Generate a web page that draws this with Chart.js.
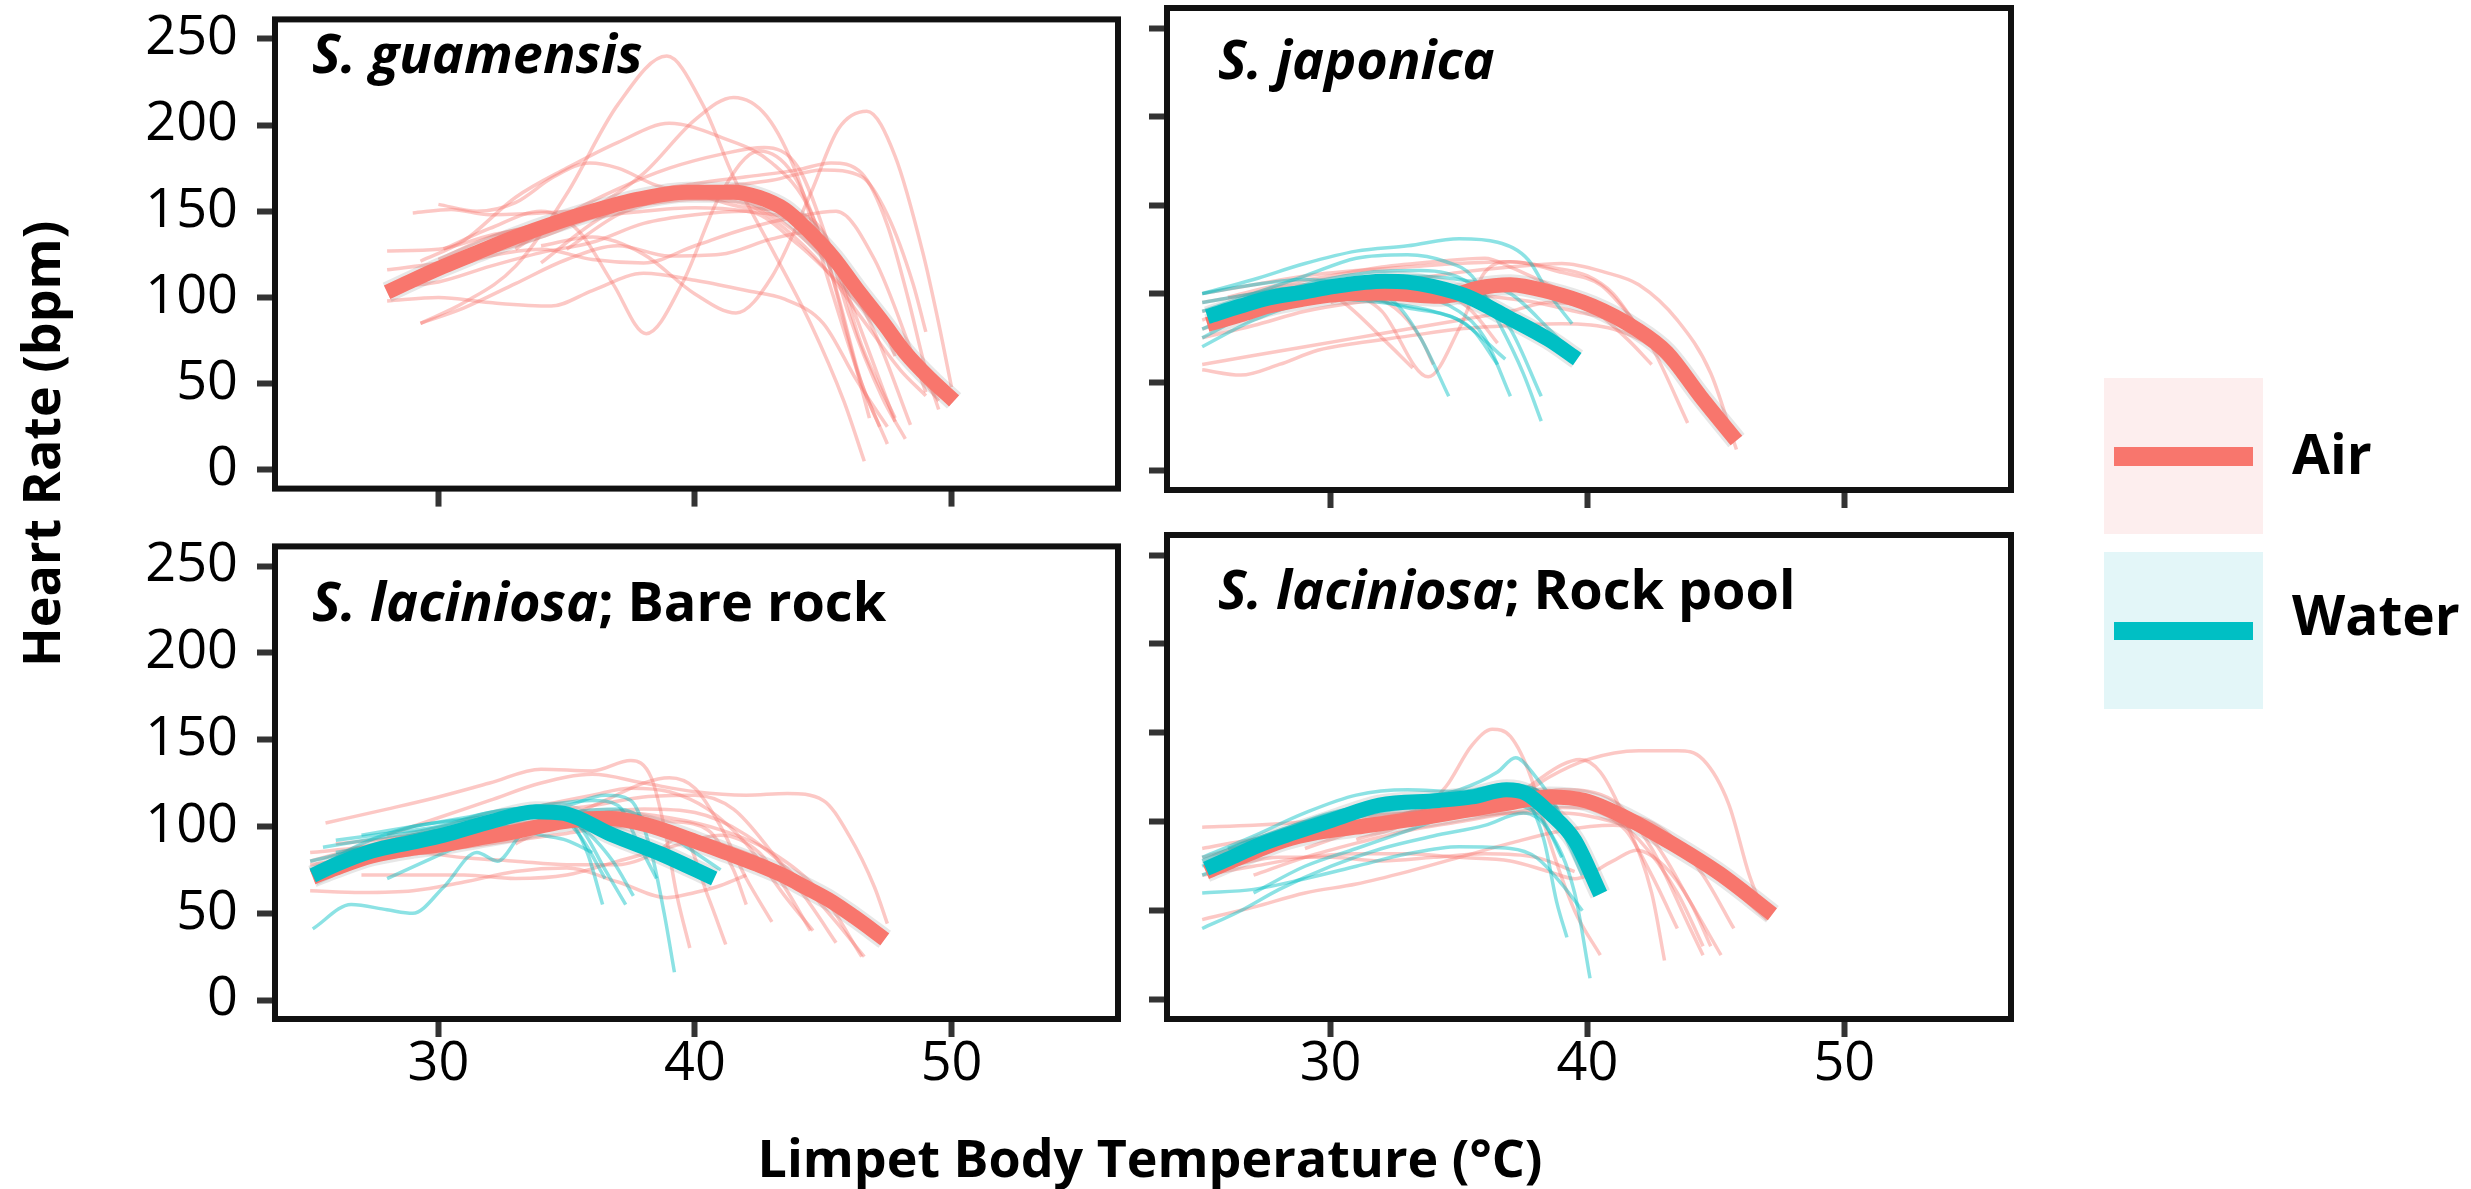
<!DOCTYPE html>
<html lang="en">
<head>
    <meta charset="UTF-8">
    <title>Limpet heart rate vs body temperature</title>
    <script src="https://cdn.jsdelivr.net/npm/chart.js@4.4.1/dist/chart.umd.min.js"></script>
    <style>
        body {
            margin: 0;
            background: #fff;
            font-family: "Open Sans", sans-serif;
        }
        #stage {
            position: relative;
            width: 2471px;
            height: 1189px;
            overflow: hidden;
        }
        canvas {
            position: absolute;
        }
        .txt {
            position: absolute;
            white-space: nowrap;
            line-height: 1;
            color: #000;
            font-weight: 700;
        }
        .ptitle { font-size: 54px; }
        .ptitle i { font-style: italic; }
        .axis-title { font-size: 52px; }
        .key {
            position: absolute;
        }
        .legend-label { font-size: 55px; }
    </style>
</head>
<body>
<div id="stage">
    <canvas id="p1"></canvas>
    <canvas id="p2"></canvas>
    <canvas id="p3"></canvas>
    <canvas id="p4"></canvas>

    <div class="txt ptitle" style="left:312px; top:25px;"><i>S. guamensis</i></div>
    <div class="txt ptitle" style="left:1218px; top:31px;"><i>S. japonica</i></div>
    <div class="txt ptitle" style="left:312px; top:573px;"><i>S. laciniosa</i>; Bare rock</div>
    <div class="txt ptitle" style="left:1218px; top:561px;"><i>S. laciniosa</i>; Rock pool</div>

    <div class="txt axis-title" style="left:1150px; top:1131px; transform:translateX(-50%);">Limpet Body Temperature (°C)</div>
    <div class="txt axis-title" style="left:14px; top:667px; transform-origin:0 0; transform:rotate(-90deg);">Heart Rate (bpm)</div>

    <div class="key" style="left:2104px; top:378px; width:159px; height:156px; background:#fdeeee;"></div>
    <div class="key" style="left:2114px; top:447px; width:139px; height:19px; background:#f8766d;"></div>
    <div class="key" style="left:2104px; top:552px; width:159px; height:157px; background:#e3f6f8;"></div>
    <div class="key" style="left:2114px; top:622px; width:139px; height:18px; background:#00bfc4;"></div>
    <div class="txt legend-label" style="left:2292px; top:425px;">Air</div>
    <div class="txt legend-label" style="left:2292px; top:586px;">Water</div>
</div>

<script>
// axes
const xTicks = [30, 40, 50];
const yTicks = [0, 50, 100, 150, 200, 250];
const xLimits = [23.63, 56.49];
const yLimits = [-10.9, 261.3];

// S. guamensis (air only)
const guamAirMean = [[28,103],[29,110],[30.2,118],[31.5,126],[33,135],[34.5,143],[36,150],[37.8,157],[39.7,161],[41.5,161],[42.5,158],[43.5,151],[44.4,139],[45.4,123],[46.3,105],[47.3,86],[48.2,68],[49.15,53],[50.1,40]];
const guamAirIndiv = [
    [[29.3,85],[31,97],[33,118],[35,160],[37,212],[38.9,240],[40.3,212],[41.5,170],[43,128],[44.5,85],[45.8,40],[46.6,5]],
    [[30,122],[32,135],[34,143],[36,152],[38,172],[40,203],[41.5,216],[42.8,205],[44,170],[45.2,110],[46.5,50],[47.5,15]],
    [[34,130],[36,135],[38,125],[40,102],[41.6,91],[43,112],[44.5,160],[45.6,198],[46.7,208],[47.8,182],[48.9,125],[49.5,85],[50,48]],
    [[30.2,128],[32,140],[34,150],[35.5,138],[36.8,108],[38.1,79],[39.5,108],[41,160],[42.5,185],[43.8,172],[45,130],[46,75],[46.8,30]],
    [[29.3,121],[31,133],[33,158],[35,175],[37,190],[39,201],[41,193],[43,178],[44.5,150],[45.5,105],[46.5,50],[47.2,25]],
    [[30,154],[31.5,150],[33,155],[34.5,170],[35.9,178],[37,175],[38.5,165],[40,160],[42,152],[43.5,150],[45,138],[46,100],[47,60],[47.8,28]],
    [[33,128],[35,148],[37,163],[39,175],[41,183],[42.7,187],[44,176],[45,140],[46,90],[47.3,42],[48.2,18]],
    [[34,120],[36,143],[38,160],[40,166],[42,170],[44,174],[45.3,178],[46.5,172],[47.5,142],[48.3,100],[49,58],[49.5,35]],
    [[35,128],[37,148],[39,158],[41,164],[43,168],[45,174],[46.5,170],[47.5,148],[48.5,108],[49,80]],
    [[28,98],[30,100],[32,97],[34.4,95],[36,104],[38,114],[40,110],[42,104],[43.5,99],[45,85],[46.3,52],[47.5,25]],
    [[29.3,85],[31,94],[33,108],[35,122],[37,130],[39,124],[41,125],[43,134],[44.5,138],[45.5,118],[46.5,72],[47.8,30]],
    [[28,116],[30,120],[32,126],[34,135],[36,146],[38,150],[40,152],[42,150],[44,143],[45.5,120],[47,80],[48.4,26]],
    [[29,149],[30.5,151],[32,148],[34,149],[36,151],[38,154],[40,157],[42,154],[43.5,140],[45,118],[46.5,88],[48,58],[49,43]],
    [[28,106],[30,109],[32,118],[34,126],[36,132],[38,143],[40,148],[42,150],[44,131],[45.5,110],[47,86],[48.5,60],[49.5,40]],
    [[30,115],[32,124],[34,128],[36,122],[38,120],[40,130],[42,140],[44,147],[45.5,150],[47,122],[48.4,70],[49,45]],
    [[28,127],[30,128],[32,136],[34,142],[36,150],[38,158],[40,160],[42,156],[44,137],[45.5,116],[47,95],[47.8,66]]
];

// S. japonica
const japAirMean = [[25.2,82.5],[26.5,88],[27.6,93],[29,97],[30.1,99.4],[32,100.4],[33.5,99],[34.3,98.5],[35,100],[35.7,103],[37,105],[38.5,101],[40.2,93],[41.9,80],[43.1,66.6],[44.4,42],[45.8,17]];
const japWaterMean = [[25.2,87],[26.5,93],[27.6,97.6],[29,101],[30.1,104],[32.1,107],[33,106.5],[34,104],[35.3,98.5],[36.85,87],[38.5,74],[39.6,63]];
const japAirIndiv = [
    [[25,100],[27,105],[29,110],[31,113],[33,115],[35,117],[37,118],[39,112],[40.5,105],[41.5,90],[42.5,70],[43.9,27]],
    [[25,57],[26.5,54],[28,60],[29.5,68],[31,72],[33,76],[35,80],[37,82],[39,83],[41,80],[42.5,70],[43.5,55]],
    [[25,60],[27,65],[29,70],[31,75],[33,80],[35,85],[37,90],[38.5,95],[40,92],[41.5,75],[42.5,60]],
    [[25,95],[27,100],[29,105],[30.5,95],[32,75],[33.2,58]],
    [[31,100],[32,90],[33.8,53],[35,80],[36,112],[37,118],[38.5,115],[40,110],[41,100],[42,80]],
    [[25,85],[27,95],[29,100],[31,105],[33,108],[35,112],[37,115],[39,117],[40.7,112],[42,105],[43.5,85],[44.8,55],[45.8,12]],
    [[25,90],[27,95],[29,100],[31,103],[33,105],[35,100],[36.5,98],[38,95],[39.5,90],[41,85],[42.5,75]],
    [[26,98],[28,105],[30,110],[32,115],[34,118],[36,120],[37,115],[38.5,105],[40,95],[41.5,80]],
    [[25,80],[27,90],[29,98],[31,100],[32.5,92],[33.5,75],[34,60]],
    [[30,95],[31.5,100],[33,102],[34.5,100],[35.5,90],[36.5,72]],
    [[25,75],[27,82],[29,90],[31,95],[33,98],[35,102],[37,104],[39,100],[41,88],[42.5,72],[44,50]]
];
const japWaterIndiv = [
    [[25,100],[27,108],[29,117],[31,124],[33,127],[35,131],[36.5,129],[37.7,119],[38.5,100],[39.4,83]],
    [[25,90],[27,100],[29,110],[31,120],[33,122],[34.5,118],[35.5,110],[36.5,85],[37.5,55],[38.2,28]],
    [[25,100],[27,105],[29,108],[31,104],[32.5,95],[33.5,75],[34.6,42]],
    [[25,75],[27,90],[29,100],[31,105],[33,100],[35,90],[36,75],[37,42]],
    [[25.5,85],[27.5,98],[29.5,107],[31.5,112],[33.5,113],[35.5,105],[37,80],[38.2,42]],
    [[25,70],[27,85],[29,95],[31,98],[33,92],[35,85],[36.8,63]],
    [[25,80],[27,92],[29,103],[31,108],[33,110],[35,108],[37,100],[38.5,80],[39.5,65]],
    [[25,95],[27,100],[28.5,103],[30,98],[32,95],[34,90],[35.5,80],[36.5,60]]
];

// S. laciniosa, bare rock
const bareAirMean = [[25.1,70.8],[26,76],[27.4,83],[29,87.5],[30.2,89.6],[31.5,93],[33,97],[34.9,102.8],[36.6,104.7],[38.1,101],[40,91.5],[41.2,85],[42.45,78],[43.4,72],[44.3,65],[45.3,57],[46.2,48],[47.4,35]];
const bareWaterMean = [[25.1,71.7],[26,78],[27.4,85.8],[29,91],[30.2,95],[32.1,103],[33.8,108.5],[34.9,107.5],[36.8,95],[38.7,84],[40.75,70]];
const bareAirIndiv = [
    [[25.6,102],[28,110],[30,117],[32,125],[34,133],[36,132],[37.5,138],[38.3,128],[38.8,100],[39.3,60],[39.8,30]],
    [[28,95],[30,105],[32,115],[34,125],[36,130],[38,125],[40,120],[42,118],[43.6,119],[45,115],[46,95],[47,65],[47.5,44]],
    [[26,80],[28,85],[30,92],[32,100],[34,108],[36,112],[38,117],[40,118],[41.5,110],[43,85],[44.5,55],[45.5,33]],
    [[25,63],[27,62],[29,63],[31,68],[33,74],[35,76],[37,68],[38.9,59],[40,62],[41,66],[42,72]],
    [[27,72],[29,72],[31,72],[33,70],[35,72],[37,80],[39,88],[41,95],[42.5,85],[43.5,65],[44.5,40]],
    [[25,78],[27,82],[29,85],[31,82],[33,80],[35,78],[37,78],[38.5,85],[39.5,95],[40.5,60],[41.2,32]],
    [[25,80],[27,88],[29,95],[31,100],[33,104],[35,107],[37,108],[39,105],[41,98],[43,85],[45,60],[46.5,25]],
    [[26,90],[28,93],[30,97],[32,100],[34,103],[36,107],[38,110],[40,108],[42,95],[44,70],[45.5,45],[46.6,25]],
    [[25,85],[27,88],[29,93],[31,96],[33,100],[35,104],[37,107],[39,103],[40.5,98],[41.5,75],[42,55]],
    [[30,95],[32,105],[34,112],[36,118],[37.5,122],[39,120],[40.5,110],[42,90],[43.5,60],[44.6,40]],
    [[33,90],[35,105],[36.5,115],[38,125],[39,128],[40,122],[41,100],[42,70],[43,45]],
    [[25,75],[27,80],[29,84],[31,88],[33,92],[35,96],[37,100],[39,98],[41,90],[43,78],[45,58],[47,38]]
];
const bareWaterIndiv = [
    [[25.1,41],[26.6,55],[28,52],[29,50],[30.2,65],[31.5,85],[32.3,80],[33.2,95],[34.5,105],[35.5,100],[36.5,75],[37.3,55]],
    [[25.2,75],[27,90],[29,100],[31,104],[33,108],[35,112],[36.5,118],[37.5,115],[38.3,85],[38.8,50],[39.2,16]],
    [[26,92],[28,96],[30,100],[32,108],[34,112],[36,115],[37,112],[37.8,90],[38.5,70]],
    [[25.5,88],[27.5,93],[29.5,98],[31.5,104],[33.5,108],[35,105],[35.8,85],[36.4,55]],
    [[27,95],[29,100],[31,105],[33,110],[34.5,108],[35.5,95],[36.5,70]],
    [[25,80],[27,87],[29,95],[31,100],[33,104],[35,108],[37,110],[38.5,100],[40,85],[41,75]],
    [[26,85],[28,90],[30,98],[32,103],[34,106],[35.5,100],[36.8,80],[37.6,60]],
    [[28,70],[29.5,80],[31,90],[32.5,100],[34,95],[35,92],[36,85]]
];

// S. laciniosa, rock pool
const poolAirMean = [[25.15,71.7],[26.5,80],[28.2,89.6],[29.5,94],[31,97],[33.8,102.8],[36.7,110],[38.55,114],[39.9,112],[41.4,103],[43.3,87.7],[45.15,70.8],[47.2,48]];
const poolWaterMean = [[25.15,73.6],[26,79],[27.2,86.8],[28.6,94],[30.06,101],[31.9,109.4],[34.2,112],[35.5,114],[36.85,118],[37.6,116],[38.55,104.7],[39.5,89.6],[40.5,59.4]];
const poolAirIndiv = [
    [[31,90],[33,100],[34.5,120],[35.5,143],[36.3,152],[37,148],[37.8,125],[38.5,90],[39.5,50],[40.5,25]],
    [[37,110],[38.5,125],[40,135],[42,140],[43.5,140],[44.5,135],[45.5,110],[46.3,70],[46.9,48]],
    [[36,108],[37.5,118],[39,132],[39.7,135],[40.5,128],[41.5,100],[42.5,60],[43,22]],
    [[25,97],[27,98],[29,100],[31,103],[33,105],[35,108],[37,112],[39,118],[41,112],[42.5,85],[44,40],[44.5,25]],
    [[25,70],[27,75],[29,80],[31,82],[33,82],[35,80],[37,78],[38.5,72],[39.5,68],[41,78],[41.9,84],[43,75],[44,55],[44.8,30]],
    [[26,75],[28,80],[30,80],[32,78],[34,80],[36,82],[38,80],[39.5,72]],
    [[25,45],[27,52],[29,60],[31,65],[33,72],[35,80],[37,88],[39,95],[41,98],[42.5,90],[44,55],[45.2,25]],
    [[27,70],[29,80],[31,88],[33,95],[35,100],[37,105],[39,108],[41,106],[43,95],[44.5,70],[45.7,40]],
    [[25,80],[27,88],[29,95],[31,100],[33,105],[35,110],[36.5,115],[38,118],[40,112],[42,90],[43.5,60],[44.5,30]],
    [[29,85],[31,95],[33,105],[35,112],[37,115],[38.5,114],[40,108],[41.5,95],[42.5,70],[43.5,40]],
    [[25,85],[27,90],[29,92],[31,95],[33,100],[35,103],[37,105],[39,105],[41,100],[43,90],[45,70],[47,45]]
];
const poolWaterIndiv = [
    [[25,80],[27,92],[29,105],[31,115],[33,118],[35,117],[36.5,120],[37.5,115],[38.3,90],[38.8,55],[39.2,35]],
    [[25,60],[27,62],[29,68],[31,75],[33,82],[35,86],[37,85],[38,80],[39,65],[39.8,50]],
    [[25,40],[26.5,50],[28,62],[30,75],[32,85],[34,92],[36,98],[37.5,105],[38.5,95],[39.5,60],[40.1,12]],
    [[25,78],[27,90],[29,100],[31,108],[33,112],[35,118],[36.5,128],[37.2,136],[38,125],[38.8,108],[39.5,85]],
    [[26,85],[28,95],[30,105],[32,110],[34,113],[36,118],[37.5,120],[38.5,112],[39.3,95],[39.9,75]],
    [[25,70],[27,82],[29,95],[31,103],[33,108],[35,110],[37,115],[38,110],[39,95],[39.8,70]],
    [[25,75],[27,88],[29,98],[31,106],[33,110],[35,114],[37,120],[38,118],[38.8,100]],
    [[27,60],[29,75],[31,85],[33,95],[35,105],[37,110],[38.3,100],[39,80]]
];

const AIR = '#f8766d';
const WATER = '#00bfc4';
const AIR_THIN = 'rgba(248,118,109,0.4)';
const WATER_THIN = 'rgba(0,191,196,0.45)';
const BAND = 'rgba(120,120,120,0.18)';

// panel box = chart area, in page pixels
const panels = [
    { id: 'p1', box: [275, 8, 1118, 490], yLabels: true, xLabels: false,
      airMean: guamAirMean, airIndiv: guamAirIndiv, waterMean: null, waterIndiv: [] },
    { id: 'p2', box: [1167, 8, 2011, 490], yLabels: false, xLabels: false,
      airMean: japAirMean, airIndiv: japAirIndiv, waterMean: japWaterMean, waterIndiv: japWaterIndiv },
    { id: 'p3', box: [275, 535, 1118, 1019], yLabels: true, xLabels: true,
      airMean: bareAirMean, airIndiv: bareAirIndiv, waterMean: bareWaterMean, waterIndiv: bareWaterIndiv },
    { id: 'p4', box: [1167, 535, 2011, 1019], yLabels: false, xLabels: true,
      airMean: poolAirMean, airIndiv: poolAirIndiv, waterMean: poolWaterMean, waterIndiv: poolWaterIndiv }
];

const boxBorder = {
    id: 'boxBorder',
    afterDraw(chart) {
        const { ctx, chartArea: a } = chart;
        ctx.save();
        ctx.lineWidth = 6;
        ctx.strokeStyle = '#111';
        ctx.strokeRect(a.left, a.top, a.right - a.left, a.bottom - a.top);
        ctx.restore();
    }
};

function line(points, color, width, order) {
    return {
        data: points,
        borderColor: color,
        borderWidth: width,
        pointRadius: 0,
        fill: false,
        tension: 0.4,
        cubicInterpolationMode: 'monotone',
        borderCapStyle: 'butt',
        borderJoinStyle: 'round',
        order: order
    };
}

function drawPanel(p) {
    const padTop = 40, padRight = 40;
    const yW = p.yLabels ? 170 : 50;
    const xH = p.xLabels ? 110 : 50;
    const [L, T, R, B] = p.box;
    const canvas = document.getElementById(p.id);
    canvas.width = (R - L) + yW + padRight;
    canvas.height = (B - T) + padTop + xH;
    canvas.style.left = (L - yW) + 'px';
    canvas.style.top = (T - padTop) + 'px';

    const datasets = [];
    p.airIndiv.forEach(pts => datasets.push(line(pts, AIR_THIN, 3.5, 6)));
    p.waterIndiv.forEach(pts => datasets.push(line(pts, WATER_THIN, 3.5, 5)));
    datasets.push(line(p.airMean, BAND, 21, 4));
    if (p.waterMean) datasets.push(line(p.waterMean, BAND, 21, 3));
    datasets.push(line(p.airMean, AIR, 15, 1));
    if (p.waterMean) datasets.push(line(p.waterMean, WATER, 15, 0));

    const tickFont = { family: 'Open Sans', size: 54, weight: '400' };

    new Chart(canvas, {
        type: 'line',
        data: { datasets: datasets },
        options: {
            responsive: false,
            animation: false,
            events: [],
            layout: { padding: { top: padTop, right: padRight, left: 0, bottom: 0 } },
            plugins: { legend: { display: false }, tooltip: { enabled: false } },
            scales: {
                x: {
                    type: 'linear',
                    min: xLimits[0],
                    max: xLimits[1],
                    afterBuildTicks: s => { s.ticks = xTicks.map(v => ({ value: v })); },
                    afterFit: s => { s.height = xH; },
                    grid: { drawOnChartArea: false, drawTicks: true, tickLength: 18, tickWidth: 6, tickColor: '#333' },
                    border: { display: false },
                    ticks: { display: p.xLabels, font: tickFont, color: '#000', padding: -5, autoSkip: false, maxRotation: 0, minRotation: 0 }
                },
                y: {
                    type: 'linear',
                    min: yLimits[0],
                    max: yLimits[1],
                    afterBuildTicks: s => { s.ticks = yTicks.map(v => ({ value: v })); },
                    afterFit: s => { s.width = yW; },
                    grid: { drawOnChartArea: false, drawTicks: true, tickLength: 18, tickWidth: 6, tickColor: '#333' },
                    border: { display: false },
                    ticks: { display: p.yLabels, font: tickFont, color: '#000', padding: 19, autoSkip: false }
                }
            }
        },
        plugins: [boxBorder]
    });
}

panels.forEach(drawPanel);
</script>
</body>
</html>
